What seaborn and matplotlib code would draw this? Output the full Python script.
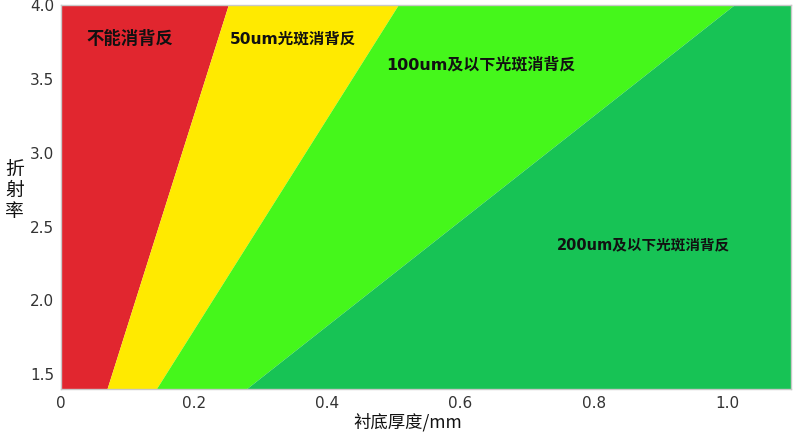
import numpy as np
import pandas as pd
import matplotlib
matplotlib.use("Agg")
import matplotlib.pyplot as plt
import seaborn as sns

# Data
refr_index = [1.4, 4.0]                 # 折射率 (y)
bound_none_50 = [0.069, 0.251]          # 不能消背反 | 50um
bound_50_100 = [0.143, 0.506]           # 50um | 100um
bound_100_200 = [0.278, 1.010]          # 100um | 200um
x_max = 1.096
region_labels = ["不能消背反", "50um光斑消背反", "100um及以下光斑消背反", "200um及以下光斑消背反"]
region_colors = ["#E1262F", "#FFEA00", "#45F71B", "#17C355"]
label_pos_x = [0.103, 0.349, 0.630, 0.875]
label_pos_y = [3.77, 3.77, 3.60, 2.38]
label_sizes = [12.5, 11.2, 11.5, 10.5]
x_ticks = [0, 0.2, 0.4, 0.6, 0.8, 1.0]
x_ticklabels = ["0", "0.2", "0.4", "0.6", "0.8", "1.0"]
y_ticks = [1.5, 2.0, 2.5, 3.0, 3.5, 4.0]

sns.set_theme(style="white")
plt.rcParams['font.family'] = ['DejaVu Sans', 'Noto Sans CJK SC']

fig = plt.figure(figsize=(7.98, 4.32), dpi=100)
ax = fig.add_axes([0.0764, 0.0995, 0.9148, 0.8885])

df = pd.DataFrame({
    "n": refr_index * 3,
    "t": bound_none_50 + bound_50_100 + bound_100_200,
    "b": ["b1"] * 2 + ["b2"] * 2 + ["b3"] * 2,
})
sns.lineplot(data=df, x="t", y="n", hue="b", palette=["#00000000"] * 3,
             legend=False, ax=ax, sort=False)

zeros = [0, 0]
xmax = [x_max, x_max]
edges = [zeros, bound_none_50, bound_50_100, bound_100_200, xmax]
for i, c in enumerate(region_colors):
    ax.fill_betweenx(refr_index, edges[i], edges[i + 1], color=c, linewidth=0)

for lab, lx, ly, fs in zip(region_labels, label_pos_x, label_pos_y, label_sizes):
    ax.text(lx, ly, lab, ha="center", va="center", fontsize=fs,
            fontweight="bold", color="#111111",
            family=['DejaVu Sans', 'Noto Sans CJK SC'])

ax.set_xlim(0, x_max)
ax.set_ylim(refr_index[0], refr_index[1])
ax.set_xticks(x_ticks)
ax.set_xticklabels(x_ticklabels)
ax.set_yticks(y_ticks)
ax.tick_params(axis="both", length=0, labelsize=11, colors="#333333", pad=5)
for s in ax.spines.values():
    s.set_color("#C8C8C8")
    s.set_linewidth(1)

ax.set_xlabel("衬底厚度/mm", fontsize=12.5, color="#111111",
              family=['Noto Sans CJK SC', 'DejaVu Sans'])
ax.xaxis.set_label_coords(0.475, -0.062)
ax.set_ylabel("")
fig.text(0.018, 0.56, "折\n射\n率", ha="center", va="center", fontsize=13.5,
         color="#111111", linespacing=1.0,
         family=['Noto Sans CJK SC', 'DejaVu Sans'])

fig.savefig("out.png", dpi=100)
